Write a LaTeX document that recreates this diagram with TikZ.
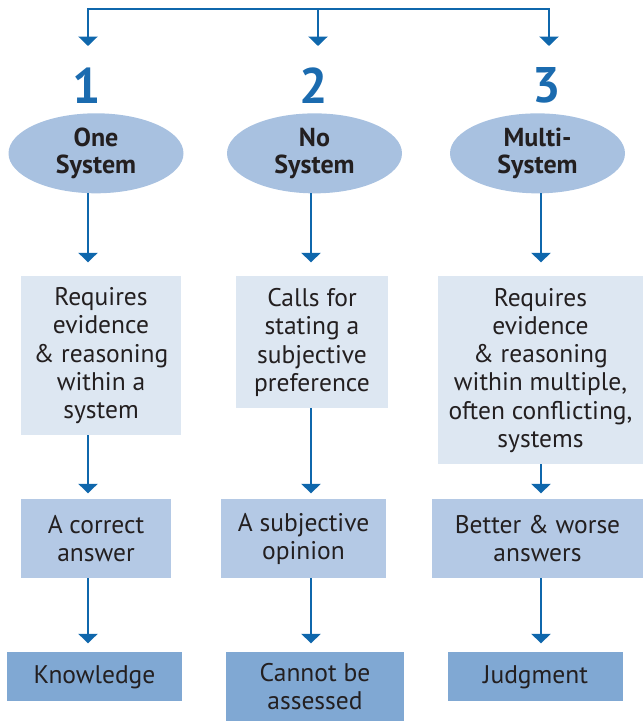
\documentclass[tikz,border=0pt]{standalone}
\usepackage{fontspec}
\setsansfont{PT Sans}
\usetikzlibrary{arrows.meta, positioning, shapes.geometric}
\definecolor{flowblue}{HTML}{0F67AC}
\definecolor{numblue}{HTML}{1B6BAF}
\definecolor{ellblue}{HTML}{A8C1E0}
\definecolor{paleblue}{HTML}{DDE7F2}
\definecolor{midblue}{HTML}{B4C9E5}
\definecolor{deepblue}{HTML}{80A8D3}
\definecolor{inkdark}{HTML}{231F20}

\begin{document}
\begin{tikzpicture}[
    x=1pt, y=-1pt,
    >={Triangle[width=19pt, length=9.5pt]},
    num/.style={font=\sffamily\bfseries\fontsize{50}{50}\selectfont, text=numblue, inner sep=0pt, outer sep=0pt},
    sysell/.style={ellipse, fill=ellblue, minimum width=175pt, minimum height=80pt, inner sep=0pt, outer sep=0pt,
                   font=\sffamily\bfseries\fontsize{26}{27.5}\selectfont, text=inkdark, align=center},
    box/.style={inner sep=0pt, outer sep=0pt, text=inkdark, align=center,
                font=\sffamily\fontsize{25.5}{28.3}\selectfont},
    reqbox/.style={box, fill=paleblue},
    ansbox/.style={box, fill=midblue, minimum height=79pt},
    outbox/.style={box, fill=deepblue},
    arr/.style={->, draw=flowblue, line width=2.5pt},
]
\useasboundingbox (0,0) rectangle (643,721);

% Column lines
\coordinate (c1) at (88,0);
\coordinate (c2) at (311,0);
\coordinate (c3) at (541,0);

% Numbers
\node[num] (num1) at (87,85.5) {1};
\node[num] (num2) at (314,85.5) {2};
\node[num] (num3) at (547,85.5) {3};

% Kinds of system
\node[sysell, below=10pt of num1, xshift=9pt] (one) {One\\System};
\node[sysell, below=10pt of num2, xshift=0.5pt] (none) {No\\System};
\node[sysell, below=10pt of num3, xshift=-9.5pt] (multi) {Multi-\\System};

% What is asked for
\node[reqbox, minimum width=160pt, minimum height=159pt, below=83pt of one, xshift=5pt] (req1)
    {Requires\\evidence\\\& reasoning\\within a\\system};
\node[reqbox, minimum width=152pt, minimum height=132pt, below=83pt of none, xshift=-2.5pt] (req2)
    {Calls for\\stating a\\subjective\\preference};
\node[reqbox, minimum width=205pt, minimum height=188pt, below=83pt of multi, xshift=3pt] (req3)
    {Requires\\evidence\\\& reasoning\\within multiple,\\often conflicting,\\systems};

% Answers
\node[ansbox, minimum width=150pt, below=64pt of req1, xshift=-5pt] (ans1) {A correct\\answer};
\node[ansbox, minimum width=165pt, below=91pt of req2, xshift=-8.5pt] (ans2) {A subjective\\opinion};
\node[ansbox, minimum width=211pt, below=35pt of req3, xshift=-3pt] (ans3) {Better \& worse\\answers};

% Outcomes
\node[outbox, minimum width=175pt, minimum height=49pt, below=74pt of ans1, xshift=-1.5pt] (out1) {Knowledge};
\node[outbox, minimum width=178pt, minimum height=69pt, below=74pt of ans2, xshift=11.5pt] (out2) {Cannot be\\assessed};
\node[outbox, minimum width=175pt, minimum height=49pt, below=74pt of ans3, xshift=-2pt] (out3) {Judgment};

% Fork at the top
\coordinate (forkL) at (88,9);
\coordinate (forkM) at (318,9);
\coordinate (forkR) at (549,9);
\coordinate (tiplevel) at (0,46);
\draw[arr] (forkM) -| (forkL |- tiplevel);
\draw[arr] (forkM) -| (forkR |- tiplevel);
\draw[arr] (forkM) -- (forkM |- tiplevel);

% Arrows down each column
\draw[arr, shorten >=14pt] (one.south -| c1) -- (req1.north -| c1);
\draw[arr, shorten >=14pt] (none.south -| c2) -- (req2.north -| c2);
\draw[arr, shorten >=14pt] (multi.south -| c3) -- (req3.north -| c3);

\draw[arr, shorten >=6pt] (req1.south -| c1) -- (ans1.north -| c1);
\draw[arr, shorten >=6pt] (req2.south -| c2) -- (ans2.north -| c2);
\draw[arr, shorten >=6pt] (req3.south -| c3) -- (ans3.north -| c3);

\draw[arr, shorten >=9pt] (ans1.south -| c1) -- (out1.north -| c1);
\draw[arr, shorten >=9pt] (ans2.south -| c2) -- (out2.north -| c2);
\draw[arr, shorten >=9pt] (ans3.south -| c3) -- (out3.north -| c3);

\end{tikzpicture}
\end{document}
